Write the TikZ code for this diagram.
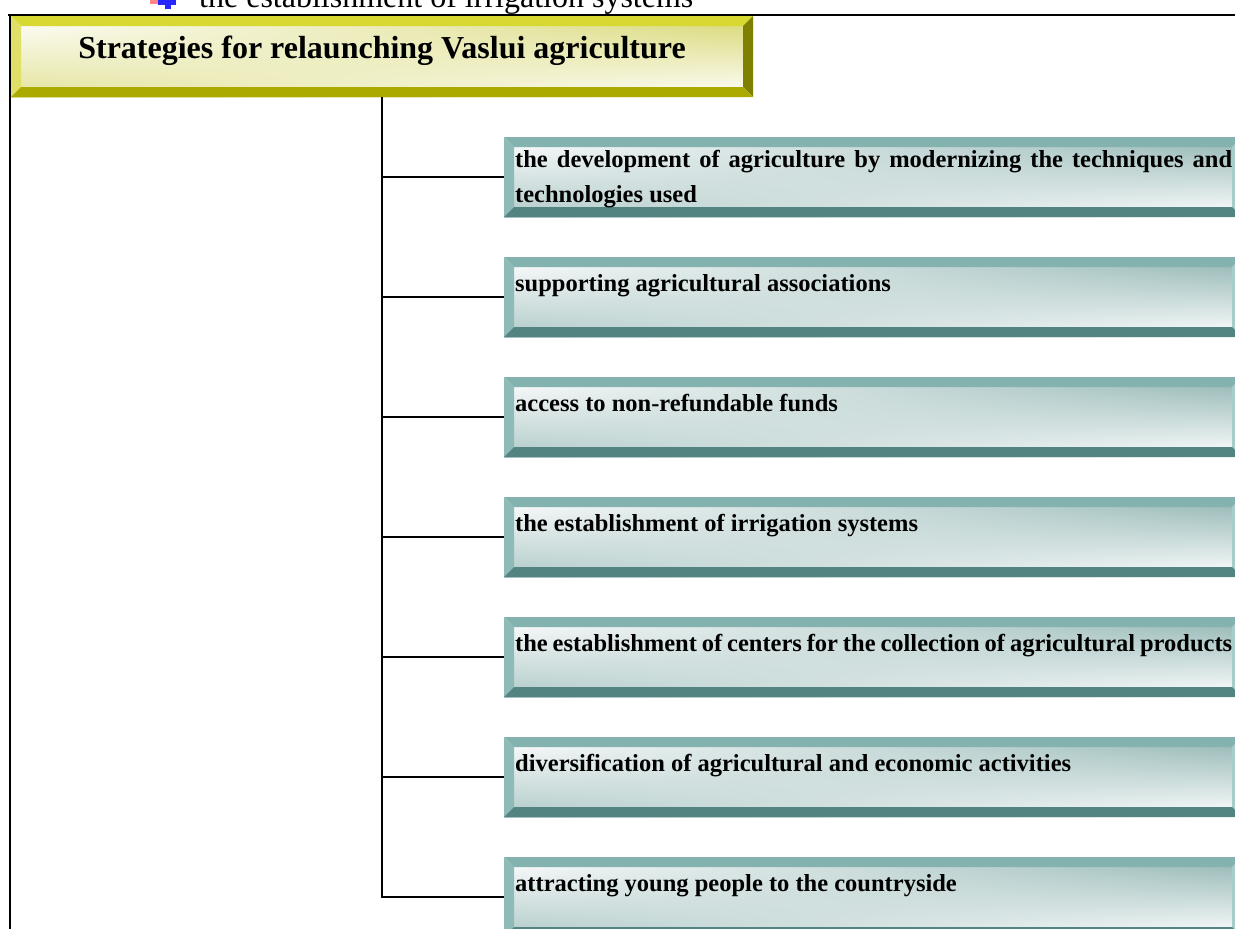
\documentclass[tikz,border=0pt]{standalone}
\usepackage{fontspec}
\setmainfont{Liberation Serif}
\usetikzlibrary{calc,shadings}
\definecolor{ytop}{HTML}{D8D832}
\definecolor{yleft}{HTML}{E0E068}
\definecolor{yright}{HTML}{808000}
\definecolor{ybot}{HTML}{AAAA00}
\definecolor{yface}{HTML}{CFCF55}
\definecolor{ttop}{HTML}{84B2AF}
\definecolor{tleft}{HTML}{8EBAB8}
\definecolor{tright}{HTML}{A8CCCA}
\definecolor{tbot}{HTML}{548482}
\definecolor{tface}{HTML}{7AA6A3}
\newcommand\bevelfill[6]{%
  \path (path picture bounding box.north west) coordinate (pa)
        (path picture bounding box.north east) coordinate (pb)
        (path picture bounding box.south east) coordinate (pc)
        (path picture bounding box.south west) coordinate (pd);
  \shade[upper left=white, upper right=#1!85!white,
         lower left=#1!60!white, lower right=white]
        (pa) rectangle (pc);
  \fill[#2] (pa) -- (pb) -- ($(pb)+(-#6,#6)$) -- ($(pa)+(#6,#6)$) -- cycle;
  \fill[#3] (pa) -- ($(pa)+(#6,#6)$) -- ($(pd)+(#6,-#6)$) -- (pd) -- cycle;
  \fill[#4] (pb) -- (pc) -- ($(pc)+(-#6,-#6)$) -- ($(pb)+(-#6,#6)$) -- cycle;
  \fill[#5] (pd) -- ($(pd)+(#6,-#6)$) -- ($(pc)+(-#6,-#6)$) -- (pc) -- cycle;
}
\tikzset{
  titlebox/.style={inner sep=0, outer sep=0, minimum width=742, minimum height=81,
    path picture={\bevelfill{yface}{ytop}{yleft}{yright}{ybot}{10}}},
  itembox/.style={inner sep=0, outer sep=0, minimum width=738, minimum height=80,
    path picture={\bevelfill{tface}{ttop}{tleft}{tright}{tbot}{10}}},
  titletext/.style={inner sep=0, anchor=base, font=\bfseries\fontsize{32}{38}\selectfont},
  itemtext/.style={inner sep=0, anchor=base west, text width=717, align=justify,
    font=\bfseries\fontsize{24.5}{35}\selectfont},
  conn/.style={line width=1.8, black},
  frameline/.style={line width=2.5, black},
}
\begin{document}
\begin{tikzpicture}[x=1pt,y=-1pt]
\useasboundingbox (0,0) rectangle (1235,929);
\clip (0,0) rectangle (1235,929);
\fill[white] (0,0) rectangle (1235,929);
% bullet glyph (cut off at the top)
\fill[red!80, opacity=0.6] (150,0) rectangle (164,4);
\fill[blue!85] (158,0) rectangle (176,4.5);
\fill[blue!85] (165,0) rectangle (170.5,9);
\node[anchor=base west, inner sep=0, font=\fontsize{32}{38}\selectfont] (toptext) at (199,7.5)
  {the establishment of irrigation systems};
% frame
\coordinate (fa) at (8,15);
\coordinate (fb) at (1235,15);
\coordinate (fc) at (10,929);
\draw[frameline] (fa) -- (fb);
\draw[frameline] (fc |- fa) -- (fc);
% title
\node[titlebox] (T) at (382,56.5) {};
\node[titletext] (Tt) at (382,58) {Strategies for relaunching Vaslui agriculture};
% items
\node[itembox] (b1) at (873,177) {};
\node[itembox] (b2) at (873,297) {};
\node[itembox] (b3) at (873,417) {};
\node[itembox] (b4) at (873,537) {};
\node[itembox] (b5) at (873,657) {};
\node[itembox] (b6) at (873,777) {};
\node[itembox] (b7) at (873,897) {};
\node[itemtext] (t1) at ($(b1.north west)+(11,30)$)
  {\hyphenpenalty=10000 the development of agriculture by modernizing the techniques and technologies used};
\node[itemtext] (t2) at ($(b2.north west)+(11,34)$) {supporting agricultural associations};
\node[itemtext] (t3) at ($(b3.north west)+(11,34)$) {access to non-refundable funds};
\node[itemtext] (t4) at ($(b4.north west)+(11,34)$) {the establishment of irrigation systems};
\node[itemtext] (t5) at ($(b5.north west)+(11,34)$) {the establishment of centers for the collection of agricultural products};
\node[itemtext] (t6) at ($(b6.north west)+(11,34)$) {diversification of agricultural and economic activities};
\node[itemtext] (t7) at ($(b7.north west)+(11,34)$) {attracting young people to the countryside};
% connectors
\draw[conn] (T.south) -- (T.south |- b7.west) -- (b7.west);
\foreach \k in {1,...,6}{\draw[conn] (T.south |- b\k.west) -- (b\k.west);}
\end{tikzpicture}
\end{document}
